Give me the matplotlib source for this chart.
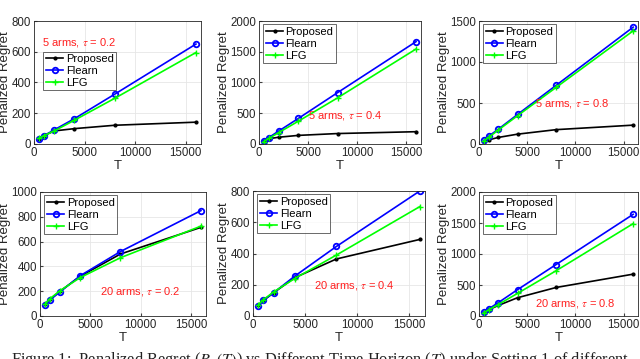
import numpy as np
import matplotlib
matplotlib.use('Agg')
import matplotlib.pyplot as plt

plt.rcParams['font.family'] = ['Liberation Sans', 'DejaVu Sans']
plt.rcParams['mathtext.fontset'] = 'stix'

T = [500, 1000, 2000, 4000, 8000, 16000]

# 5 arms
prop_5_02 = [35, 55, 85, 100, 122, 142]
flearn_5_02 = [30, 55, 92, 165, 325, 650]
lfg_5_02 = [38, 55, 85, 155, 298, 595]

prop_5_04 = [45, 85, 110, 140, 170, 200]
flearn_5_04 = [50, 105, 210, 415, 835, 1665]
lfg_5_04 = [40, 90, 185, 370, 750, 1545]

prop_5_08 = [25, 50, 80, 120, 175, 230]
flearn_5_08 = [45, 95, 180, 360, 715, 1425]
lfg_5_08 = [35, 80, 170, 345, 690, 1380]

# 20 arms
prop_20_02 = [95, 135, 200, 320, 500, 715]
flearn_20_02 = [85, 130, 195, 325, 520, 850]
lfg_20_02 = [95, 140, 205, 310, 470, 725]

prop_20_04 = [70, 100, 150, 245, 365, 490]
flearn_20_04 = [65, 100, 150, 255, 445, 800]
lfg_20_04 = [70, 105, 155, 240, 390, 700]

prop_20_08 = [55, 100, 170, 295, 460, 675]
flearn_20_08 = [60, 115, 215, 425, 830, 1640]
lfg_20_08 = [50, 100, 185, 365, 730, 1490]

titles = ["5 arms, $\\tau$ = 0.2", "5 arms, $\\tau$ = 0.4", "5 arms, $\\tau$ = 0.8",
          "20 arms, $\\tau$ = 0.2", "20 arms, $\\tau$ = 0.4", "20 arms, $\\tau$ = 0.8"]

panels = [
    (prop_5_02, flearn_5_02, lfg_5_02, 800, 200),
    (prop_5_04, flearn_5_04, lfg_5_04, 2000, 500),
    (prop_5_08, flearn_5_08, lfg_5_08, 1500, 500),
    (prop_20_02, flearn_20_02, lfg_20_02, 1000, 200),
    (prop_20_04, flearn_20_04, lfg_20_04, 800, 200),
    (prop_20_08, flearn_20_08, lfg_20_08, 2000, 500),
]

# axes rectangles in pixels: left, right, top, bottom
W, H = 640, 359
rects = [
    (34, 201, 21, 144),
    (259, 421, 21, 144),
    (479, 638, 21, 144),
    (40, 206, 192, 316),
    (253, 425, 191, 316),
    (479, 638, 192, 316),
]
# annotation positions (data)
ann = [(800, 657), (4970, 470), (5760, 490), (5940, 200), (5830, 192), (5760, 194)]
leg_anchor = [(0.04, 0.77), (0.01, 0.99), (0.01, 0.99), (0.01, 0.99), (0.01, 0.99), (0.01, 0.99)]

fig = plt.figure(figsize=(6.4, 3.59), dpi=100)

for i, (p, f, l, ymax, ystep) in enumerate(panels):
    x0, x1, y0, y1 = rects[i]
    ax = fig.add_axes([x0 / W, 1 - y1 / H, (x1 - x0) / W, (y1 - y0) / H])
    ax.plot(T, p, '-', color='black', marker='.', ms=4, lw=1.2, label='Proposed')
    ax.plot(T, f, '-', color='blue', marker='o', ms=4, mfc='none', mew=1.3, lw=1.2, label='Flearn')
    ax.plot(T, l, '-', color=(0, 1, 0), marker='+', ms=4, lw=1.2, label='LFG')
    ax.set_xlim(0, 16500)
    ax.set_ylim(0, ymax)
    ax.set_xticks([0, 5000, 10000, 15000])
    ax.set_yticks(np.arange(0, ymax + 1, ystep))
    ax.grid(True, color='#e6e6e6', lw=0.6)
    ax.set_axisbelow(True)
    ax.tick_params(direction='in', labelsize=8.3, length=2.5, color='#404040', labelcolor='#262626', pad=2)
    for s in ax.spines.values():
        s.set_color('#262626')
        s.set_linewidth(0.6)
    ax.set_xlabel('T', fontsize=9.5, color='#262626', labelpad=1)
    ax.set_ylabel('Penalized Regret', fontsize=9.5, color='#262626', labelpad=0.5)
    ax.text(ann[i][0], ann[i][1], titles[i], color='#ff2020', fontsize=8, va='center', ha='left')
    leg = ax.legend(loc='upper left', bbox_to_anchor=leg_anchor[i], fontsize=8, frameon=True,
                    fancybox=False, edgecolor='#262626', handlelength=1.6, handletextpad=0.2,
                    borderpad=0.25, labelspacing=0.15, borderaxespad=0.2)
    leg.get_frame().set_linewidth(0.6)

fig.text(0.5, 1 - 351 / H, "Figure 1:  Penalized Regret ($R_p(T)$) vs Different Time Horizon ($T$) under Setting 1 of different",
         ha='center', va='top', fontsize=11.8, family=['Liberation Serif', 'DejaVu Serif'], color='#222222')

fig.savefig('out.png', dpi=100)
